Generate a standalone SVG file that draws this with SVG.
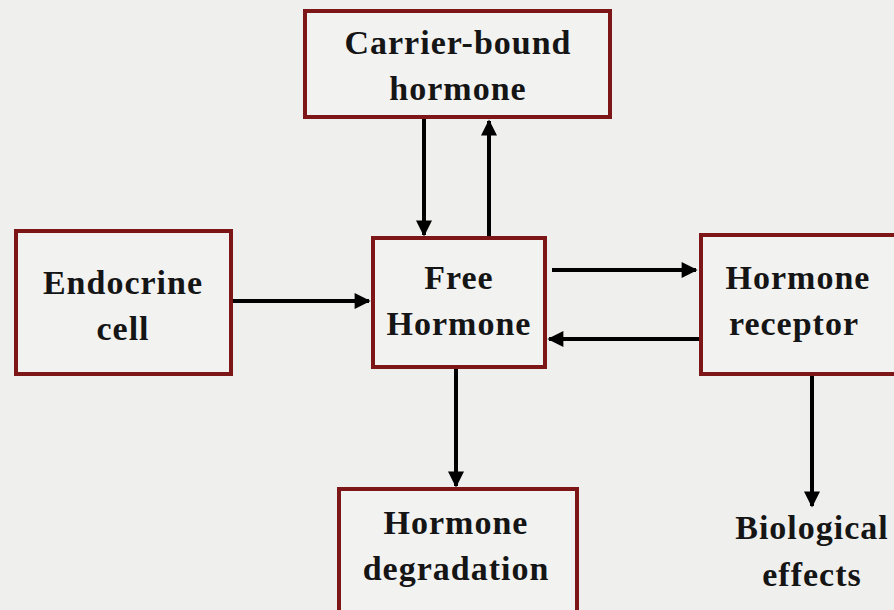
<svg xmlns="http://www.w3.org/2000/svg" width="894" height="610" viewBox="0 0 894 610">
<defs>
<style>
.box{fill:#f2f2f1;stroke:#7d1717;stroke-width:4}
.t{font-family:"Liberation Serif","Times New Roman",serif;font-weight:bold;font-size:34px;letter-spacing:1px;fill:#151515;text-anchor:middle}
.c{stroke:#000;stroke-width:4;fill:none;marker-end:url(#ah)}
</style>
<marker id="ah" viewBox="0 0 10 10" refX="9" refY="5" markerWidth="4.5" markerHeight="4" orient="auto" markerUnits="strokeWidth">
<path d="M0,0 L10,5 L0,10 z" fill="#000"/>
</marker>
</defs>
<rect width="894" height="610" fill="#efefee"/>
<g id="connectors">
<line class="c" x1="424" y1="119" x2="424" y2="235"/>
<line class="c" x1="489" y1="236" x2="489" y2="121"/>
<line class="c" x1="233" y1="301" x2="369" y2="301"/>
<line class="c" x1="552" y1="270" x2="696" y2="270"/>
<line class="c" x1="700" y1="339" x2="549" y2="339"/>
<line class="c" x1="456" y1="368" x2="456" y2="486"/>
<line class="c" x1="812" y1="376" x2="812" y2="506"/>
</g>
<g id="carrier">
<rect class="box" x="305" y="11" width="305" height="106"/>
<text class="t" x="458" y="54">Carrier-bound</text>
<text class="t" x="458" y="100">hormone</text>
</g>
<g id="endocrine">
<rect class="box" x="16" y="231" width="215" height="143"/>
<text class="t" x="123" y="294">Endocrine</text>
<text class="t" x="123" y="340">cell</text>
</g>
<g id="free">
<rect class="box" x="373" y="238" width="172" height="129"/>
<text class="t" x="459" y="289">Free</text>
<text class="t" x="459" y="335">Hormone</text>
</g>
<g id="receptor">
<rect class="box" x="701" y="235" width="200" height="139"/>
<text class="t" x="798" y="289">Hormone</text>
<text class="t" x="794" y="335">receptor</text>
</g>
<g id="degradation">
<rect class="box" x="339" y="489" width="238" height="130"/>
<text class="t" x="456" y="534">Hormone</text>
<text class="t" x="456" y="580">degradation</text>
</g>
<g id="effects">
<text class="t" x="812" y="539">Biological</text>
<text class="t" x="812" y="586">effects</text>
</g>
</svg>
